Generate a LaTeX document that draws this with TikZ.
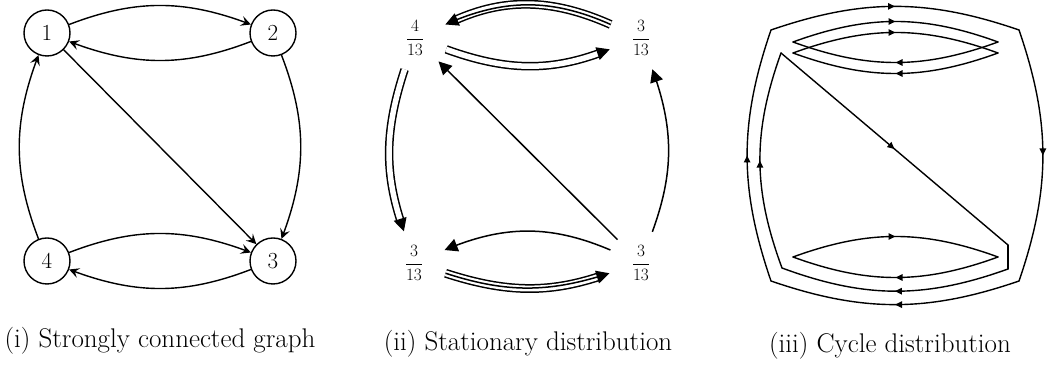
\documentclass[tikz,border=0pt]{standalone}
\usetikzlibrary{arrows.meta,decorations.markings,bending}
\begin{document}
\begin{tikzpicture}[x=1pt,y=1pt,
  vtx/.style={circle,draw,line width=1.4pt,minimum size=46pt,inner sep=0pt,font=\fontsize{23}{26}\selectfont},
  fr/.style={circle,minimum size=66pt,inner sep=0pt,font=\fontsize{17.28}{20}\selectfont},
  gedge/.style={line width=1.4pt,-{Stealth[length=10pt,width=10pt,inset=4pt]}},
  sarrow/.style={line width=1.5pt,-{Triangle[length=13pt,width=13pt]}},
  wtip/.style={white,line width=1.5pt,-{Triangle[length=13pt,width=13pt,color=black]}},
  dshaft/.style={line width=1.5pt,double distance=5.5pt,shorten >=11pt},
  tshaft/.style={line width=1.5pt,double distance=5.9pt,shorten >=11pt},
  cyc/.style={line width=1.4pt,line cap=round,line join=round},
  mid/.style={postaction={decorate},decoration={markings,mark=at position 0.5 with {\arrow{Triangle[length=7pt,width=6.5pt]}}}},
  captext/.style={font=\fontsize{27}{31}\selectfont,anchor=base}
]
\useasboundingbox (0,0) rectangle (1052,366);

% ---------- panel (i)
\node[vtx] (n1) at (47,333) {1};
\node[vtx] (n2) at (273,333) {2};
\node[vtx] (n3) at (273,105) {3};
\node[vtx] (n4) at (47,105) {4};
\draw[gedge] (n1) to[bend left=21] (n2);
\draw[gedge] (n2) to[bend left=21] (n1);
\draw[gedge] (n2) to[bend left=21] (n3);
\draw[gedge] (n4) to[bend left=21] (n1);
\draw[gedge] (n4) to[bend left=21] (n3);
\draw[gedge] (n3) to[bend left=21] (n4);
\draw[gedge] (n1) -- (n3);

% ---------- panel (ii)
\node[fr] (m1) at (415,328) {$\displaystyle\frac{4}{13}$};
\node[fr] (m2) at (641,328) {$\displaystyle\frac{3}{13}$};
\node[fr] (m3) at (641,103) {$\displaystyle\frac{3}{13}$};
\node[fr] (m4) at (414,103) {$\displaystyle\frac{3}{13}$};
% triple 2 -> 1
\draw[tshaft] (m2) to[bend right=24] (m1);
\draw[sarrow] (m2) to[bend right=24] (m1);
% double 1 -> 2
\draw[dshaft] (m1) to[bend right=20] (m2);
\draw[wtip] (m1) to[bend right=20] (m2);
% double 1 -> 4
\draw[dshaft] (m1) to[bend right=18] (m4);
\draw[wtip] (m1) to[bend right=18] (m4);
% single 3 -> 2
\draw[sarrow] (m3) to[bend right=20] (m2);
% single 3 -> 4
\draw[sarrow] (m3) to[bend right=23] (m4);
% triple 4 -> 3
\draw[tshaft] (m4) to[bend right=18] (m3);
\draw[sarrow] (m4) to[bend right=18] (m3);
% diagonal 3 -> 1
\draw[sarrow] (m3) -- (m1);

% ---------- panel (iii)
\coordinate (O1) at (771,336);
\coordinate (O2) at (1019,336);
\coordinate (O3) at (1019,85);
\coordinate (O4) at (771,85);
\draw[cyc,mid] (O1) to[bend left=19] (O2);
\draw[cyc,mid] (O2) to[bend left=19] (O3);
\draw[cyc,mid] (O3) to[bend left=19] (O4);
\draw[cyc,mid] (O4) to[bend left=19] (O1);

\coordinate (LA1) at (793,324);
\coordinate (LA2) at (998,324);
\draw[cyc,mid] (LA1) to[bend left=20] (LA2);
\draw[cyc,mid] (LA2) to[bend left=20] (LA1);

\coordinate (LB1) at (793,313);
\coordinate (LB2) at (998,313);
\draw[cyc,mid] (LB1) to[bend left=20] (LB2);
\draw[cyc,mid] (LB2) to[bend left=20] (LB1);

\coordinate (LC1) at (793,109);
\coordinate (LC2) at (998,109);
\draw[cyc,mid] (LC1) to[bend left=20] (LC2);
\draw[cyc,mid] (LC2) to[bend left=20] (LC1);

\coordinate (I1) at (781,313);
\coordinate (I2) at (1008,121);
\coordinate (I3) at (1008,97);
\coordinate (I4) at (782,98);
\draw[cyc,mid] (I1) -- (I2);
\draw[cyc] (I2) -- (I3);
\draw[cyc,mid] (I3) to[bend left=20] (I4);
\draw[cyc,mid] (I4) to[bend left=20] (I1);

% ---------- captions
\node[captext] (c1) at (160,18) {(i) Strongly connected graph};
\node[captext] (c2) at (528,15.5) {(ii) Stationary distribution};
\node[captext] (c3) at (890,13) {(iii) Cycle distribution};
\end{tikzpicture}
\end{document}
